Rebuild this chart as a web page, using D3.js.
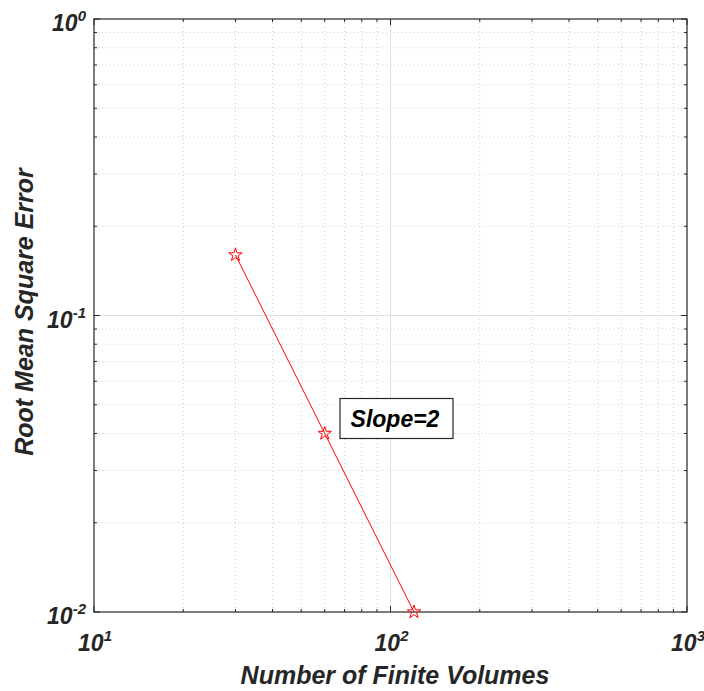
<!DOCTYPE html>
<html>
<head>
<meta charset="utf-8">
<script src="https://cdn.jsdelivr.net/npm/d3@7"></script>
<style>
body { margin: 0; background: #fff; }
text { font-family: "Liberation Sans", Arial, sans-serif; font-weight: bold; font-style: italic; }
</style>
</head>
<body>
<svg width="704" height="691"></svg>
<script>
const nVolumes = [30, 60, 120];
const rmsError = [0.16, 0.04, 0.01];
const xTicks = [10, 100, 1000];
const yTicks = [0.01, 0.1, 1];
const xLabel = "Number of Finite Volumes";
const yLabel = "Root Mean Square Error";
const note = "Slope=2";

const svg = d3.select("svg");
const plotL = 94, plotR = 687, plotT = 19, plotB = 612;
const axisColor = "#262626";

const x = d3.scaleLog().domain([10, 1000]).range([plotL, plotR]);
const y = d3.scaleLog().domain([0.01, 1]).range([plotB, plotT]);

// minor values for each decade
const minorOf = domain => {
    const out = [];
    for (let e = Math.log10(domain[0]); e < Math.log10(domain[1]); e++)
        for (let m = 2; m <= 9; m++) out.push(m * Math.pow(10, e));
    return out;
};
const xMinor = minorOf(x.domain());
const yMinor = minorOf(y.domain());

const grid = svg.append("g");
grid.selectAll(".xmin").data(xMinor).enter().append("line")
    .attr("x1", d => x(d)).attr("x2", d => x(d))
    .attr("y1", plotT).attr("y2", plotB)
    .attr("stroke", "#cfcfcf").attr("stroke-dasharray", "1,3");
grid.selectAll(".ymin").data(yMinor).enter().append("line")
    .attr("y1", d => y(d)).attr("y2", d => y(d))
    .attr("x1", plotL).attr("x2", plotR)
    .attr("stroke", "#cfcfcf").attr("stroke-dasharray", "1,3");
grid.selectAll(".xmaj").data(xTicks.slice(1, -1)).enter().append("line")
    .attr("x1", d => x(d)).attr("x2", d => x(d))
    .attr("y1", plotT).attr("y2", plotB)
    .attr("stroke", "#e0e0e0");
grid.selectAll(".ymaj").data(yTicks.slice(1, -1)).enter().append("line")
    .attr("y1", d => y(d)).attr("y2", d => y(d))
    .attr("x1", plotL).attr("x2", plotR)
    .attr("stroke", "#e0e0e0");

// tick marks inside on all four sides
const ticks = svg.append("g").attr("stroke", axisColor);
const addTicks = (vals, len, horiz) => {
    vals.forEach(v => {
        if (horiz) {
            ticks.append("line").attr("x1", x(v)).attr("x2", x(v)).attr("y1", plotB).attr("y2", plotB - len);
            ticks.append("line").attr("x1", x(v)).attr("x2", x(v)).attr("y1", plotT).attr("y2", plotT + len);
        } else {
            ticks.append("line").attr("y1", y(v)).attr("y2", y(v)).attr("x1", plotL).attr("x2", plotL + len);
            ticks.append("line").attr("y1", y(v)).attr("y2", y(v)).attr("x1", plotR).attr("x2", plotR - len);
        }
    });
};
addTicks(xTicks, 6, true);
addTicks(xMinor, 3, true);
addTicks(yTicks, 6, false);
addTicks(yMinor, 3, false);

svg.append("rect")
    .attr("x", plotL).attr("y", plotT)
    .attr("width", plotR - plotL).attr("height", plotB - plotT)
    .attr("fill", "none").attr("stroke", axisColor).attr("stroke-width", 1.2);

// tick labels
const expLabel = (sel, d) => {
    const e = Math.round(Math.log10(d));
    sel.append("tspan").text("10");
    sel.append("tspan").attr("dy", -10).attr("font-size", 15).text(e);
};
svg.selectAll(".xl").data(xTicks).enter().append("text")
    .attr("x", d => x(d) + 1).attr("y", 651)
    .attr("text-anchor", "middle").attr("font-size", 23).attr("fill", axisColor)
    .each(function(d) { expLabel(d3.select(this), d); });
svg.selectAll(".yl").data(yTicks).enter().append("text")
    .attr("x", 86).attr("y", d => y(d) + 12)
    .attr("text-anchor", "end").attr("font-size", 23).attr("fill", axisColor)
    .each(function(d) { expLabel(d3.select(this), d); });

// axis titles
svg.append("text").attr("x", 395).attr("y", 684)
    .attr("text-anchor", "middle").attr("font-size", 25).attr("fill", axisColor)
    .text(xLabel);
svg.append("text").attr("transform", "translate(33," + 312 + ") rotate(-90)")
    .attr("text-anchor", "middle").attr("font-size", 25).attr("fill", axisColor)
    .text(yLabel);

// data
const pts = nVolumes.map((d, i) => [d, rmsError[i]]);
svg.append("path").datum(pts)
    .attr("d", d3.line().x(d => x(d[0])).y(d => y(d[1])))
    .attr("fill", "none").attr("stroke", "#ff0000").attr("stroke-width", 1);
svg.selectAll(".pt").data(pts).enter().append("path")
    .attr("transform", d => "translate(" + x(d[0]) + "," + y(d[1]) + ")")
    .attr("d", d3.symbol().type(d3.symbolStar).size(55))
    .attr("fill", "none").attr("stroke", "#ff0000").attr("stroke-width", 1);

// annotation box
svg.append("rect").attr("x", 340).attr("y", 398.5).attr("width", 113).attr("height", 40)
    .attr("fill", "#fff").attr("stroke", axisColor).attr("stroke-width", 1.2);
svg.append("text").attr("x", 395).attr("y", 427)
    .attr("text-anchor", "middle").attr("font-size", 23).attr("fill", "#000")
    .text(note);
</script>
</body>
</html>
